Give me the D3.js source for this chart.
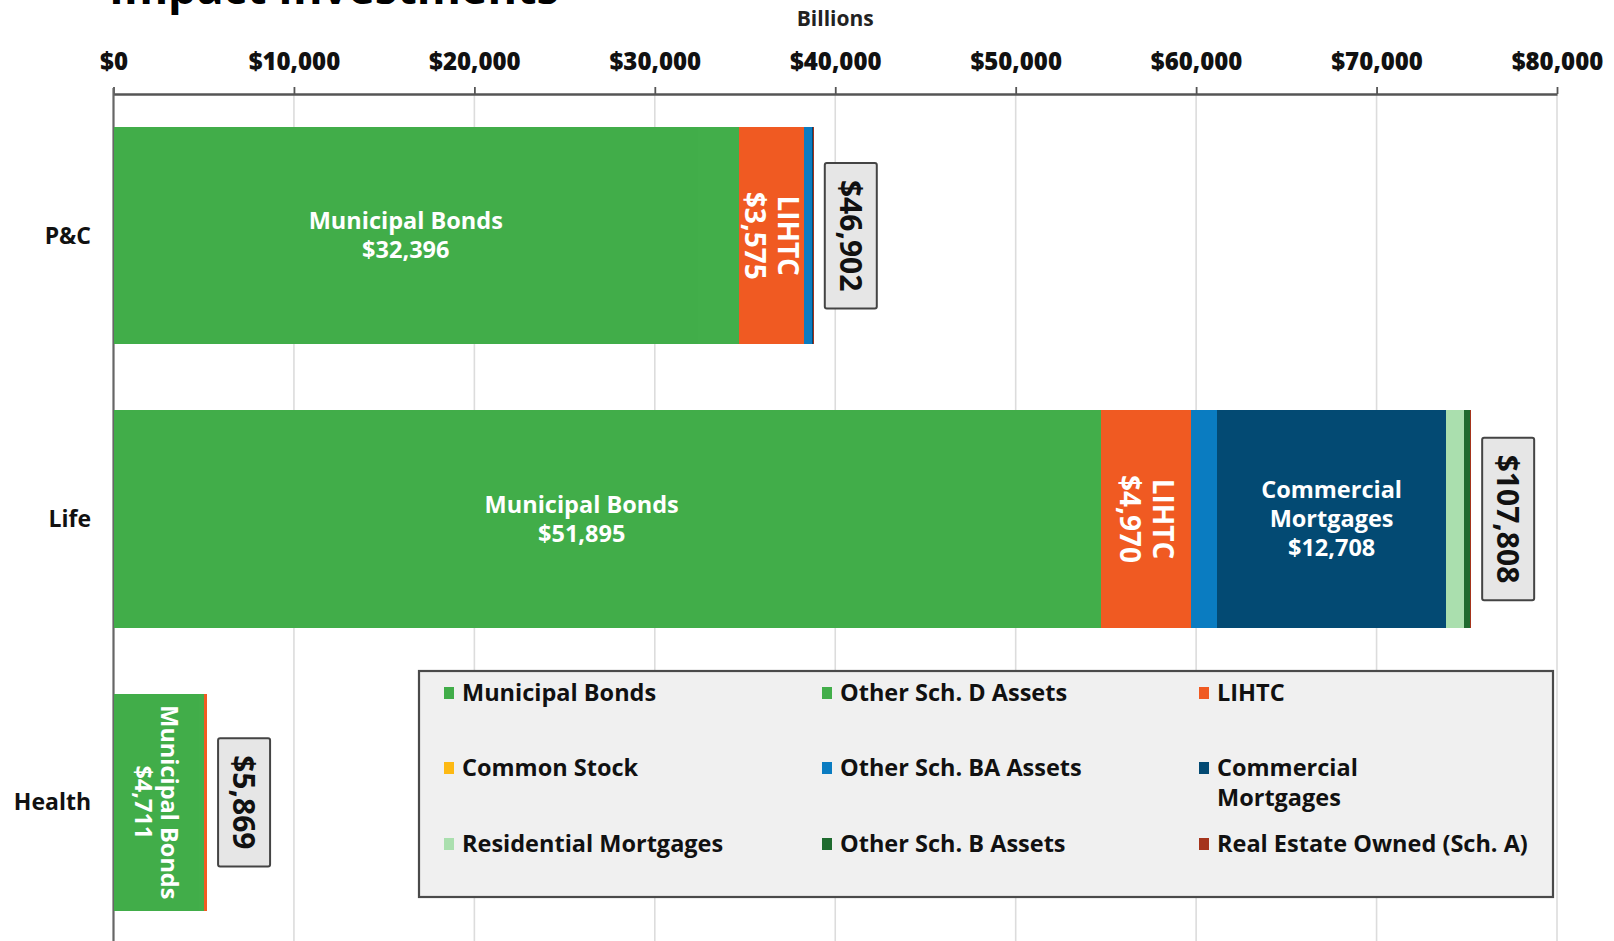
<!DOCTYPE html>
<html>
<head>
<meta charset="utf-8">
<script src="https://cdn.jsdelivr.net/npm/d3@7"></script>
<style>
  body { margin: 0; background: #ffffff; }
  text { font-family: "Open Sans", Lato, "DejaVu Sans", sans-serif; font-weight: 700; }
</style>
</head>
<body>
<svg id="chart" width="1614" height="941"></svg>
<script>
// ---- data (billions of dollars) ----
const categories = ["P&C", "Life", "Health"];

const seriesNames = [
  "Municipal Bonds", "Other Sch. D Assets", "LIHTC",
  "Common Stock", "Other Sch. BA Assets", "Commercial Mortgages",
  "Residential Mortgages", "Other Sch. B Assets", "Real Estate Owned (Sch. A)"
];
const seriesColors = [
  "#41ad49", "#42ae4a", "#f05a22",
  "#fdb913", "#0a7cc1", "#034a73",
  "#aadfae", "#1f6b2f", "#a5341c"
];

// one array per series, in category order
const municipalBonds       = [32396, 51895, 4711];
const otherSchD            = [2270, 2850, 280];
const lihtc                = [3575, 4970, 180];
const commonStock          = [0, 0, 0];
const otherSchBA           = [480, 1440, 0];
const commercialMortgages  = [40, 12708, 0];
const residentialMortgages = [0, 975, 0];
const otherSchB            = [0, 315, 0];
const realEstateOwned      = [50, 90, 15];

const totals = [46902, 107808, 5869];
const tickValues = [0, 10000, 20000, 30000, 40000, 50000, 60000, 70000, 80000];

// segments that carry an inside label: [category, series, name lines, rotated]
const segmentLabels = [
  ["P&C", "Municipal Bonds", ["Municipal Bonds"], false],
  ["P&C", "LIHTC", ["LIHTC"], true],
  ["Life", "Municipal Bonds", ["Municipal Bonds"], false],
  ["Life", "LIHTC", ["LIHTC"], true],
  ["Life", "Commercial Mortgages", ["Commercial", "Mortgages"], false],
  ["Health", "Municipal Bonds", ["Municipal Bonds"], true]
];

// legend text, split into lines
const legendLines = [
  ["Municipal Bonds"], ["Other Sch. D Assets"], ["LIHTC"],
  ["Common Stock"], ["Other Sch. BA Assets"], ["Commercial", "Mortgages"],
  ["Residential Mortgages"], ["Other Sch. B Assets"], ["Real Estate Owned (Sch. A)"]
];

const seriesValues = [
  municipalBonds, otherSchD, lihtc, commonStock, otherSchBA,
  commercialMortgages, residentialMortgages, otherSchB, realEstateOwned
];

// ---- build table for the stack ----
const table = categories.map((c, i) => {
  const row = { category: c };
  seriesNames.forEach((s, j) => { row[s] = seriesValues[j][i]; });
  return row;
});
const stacked = d3.stack().keys(seriesNames)(table);

// ---- scales ----
const svg = d3.select("#chart");
const x = d3.scaleLinear().domain([0, 80000]).range([113.5, 1557]);
const y = d3.scaleBand().domain(categories).range([94, 944])
  .paddingInner(0.233).paddingOuter(0.1165);
const color = d3.scaleOrdinal().domain(seriesNames).range(seriesColors);
const money = d3.format("$,");

// title (runs off the top edge)
svg.append("text")
  .attr("x", 109).attr("y", 4)
  .attr("font-size", 45).attr("font-weight", 800)
  .attr("fill", "#000")
  .text("Impact Investments");

// axis unit
svg.append("text")
  .attr("x", x(40000)).attr("y", 26)
  .attr("text-anchor", "middle")
  .attr("font-size", 21).attr("font-weight", 800).attr("fill", "#222")
  .text("Billions");

// gridlines
svg.append("g")
  .selectAll("line")
  .data(tickValues.slice(1))
  .join("line")
  .attr("x1", d => x(d)).attr("x2", d => x(d))
  .attr("y1", 94).attr("y2", 941)
  .attr("stroke", "#dcdcdc").attr("stroke-width", 1.6);

// top axis
const axis = svg.append("g")
  .attr("transform", "translate(0,94)")
  .call(d3.axisTop(x).tickValues(tickValues).tickFormat(money)
    .tickSizeInner(7).tickSizeOuter(0).tickPadding(17));
axis.select(".domain").attr("stroke", "#555").attr("stroke-width", 2.6);
axis.selectAll(".tick line").attr("stroke", "#555").attr("stroke-width", 1.8);
axis.selectAll(".tick text")
  .attr("font-size", 24).attr("fill", "#111")
  .style("font-family", "'Open Sans', sans-serif").style("font-weight", 800);

// left axis line
svg.append("line")
  .attr("x1", x(0)).attr("x2", x(0))
  .attr("y1", 88).attr("y2", 941)
  .attr("stroke", "#666").attr("stroke-width", 2.2);

// category labels
svg.append("g")
  .selectAll("text")
  .data(categories)
  .join("text")
  .attr("x", 91)
  .attr("y", d => y(d) + y.bandwidth() / 2)
  .attr("dy", "0.35em")
  .attr("text-anchor", "end")
  .attr("font-size", 23).attr("font-weight", 800).attr("fill", "#111")
  .text(d => d);

// stacked bars
svg.append("g")
  .attr("shape-rendering", "crispEdges")
  .selectAll("g")
  .data(stacked)
  .join("g")
  .attr("fill", d => color(d.key))
  .selectAll("rect")
  .data(d => d)
  .join("rect")
  .attr("x", d => x(d[0]))
  .attr("y", d => y(d.data.category))
  .attr("width", d => Math.max(0, x(d[1]) - x(d[0])))
  .attr("height", y.bandwidth());

// labels inside segments (the narrow LIHTC strips use a larger type)
const labelLayer = svg.append("g");
segmentLabels.forEach(([cat, series, lines, rotated]) => {
  const layer = stacked.find(s => s.key === series);
  const seg = layer[categories.indexOf(cat)];
  const cx = (x(seg[0]) + x(seg[1])) / 2;
  const cy = y(cat) + y.bandwidth() / 2;
  const allLines = lines.concat([money(seg[1] - seg[0])]);
  const big = series === "LIHTC";
  const fs = big ? 28 : 23.5;
  const lh = big ? 33 : (rotated ? 26 : 29);
  const g = labelLayer.append("g")
    .attr("transform", `translate(${cx},${cy})` + (rotated ? " rotate(90)" : ""));
  g.selectAll("text")
    .data(allLines)
    .join("text")
    .attr("x", 0)
    .attr("y", (d, i) => (i - (allLines.length - 1) / 2) * lh)
    .attr("dy", "0.35em")
    .attr("text-anchor", "middle")
    .attr("font-size", fs).attr("fill", "#fff")
    .text(d => d);
});

// total boxes at the end of each bar
const totalLayer = svg.append("g");
categories.forEach((cat, i) => {
  const end = d3.sum(seriesValues, v => v[i]);
  const cy = y(cat) + y.bandwidth() / 2;
  const g = totalLayer.append("g")
    .attr("transform", `translate(${x(end) + 11 + 26},${cy}) rotate(90)`);
  const t = g.append("text")
    .attr("x", 0).attr("y", 0).attr("dy", "0.36em")
    .attr("text-anchor", "middle")
    .attr("font-size", 30).attr("font-weight", 800).attr("fill", "#111")
    .text(money(totals[i]));
  const w = t.node().getComputedTextLength();
  g.insert("rect", "text")
    .attr("x", -w / 2 - 17).attr("y", -26)
    .attr("width", w + 34).attr("height", 52)
    .attr("rx", 2)
    .attr("fill", "#e6e6e6").attr("stroke", "#444").attr("stroke-width", 2);
});

// legend
const legend = svg.append("g").attr("transform", "translate(419,671)");
legend.append("rect")
  .attr("x", 0).attr("y", 0).attr("width", 1134).attr("height", 226)
  .attr("fill", "#f0f0f0").attr("stroke", "#4a4a4a").attr("stroke-width", 2.2);
const colX = [25, 403, 780];
const rowY = [22, 97, 173];
const items = legend.selectAll("g.item")
  .data(seriesNames)
  .join("g")
  .attr("class", "item")
  .attr("transform", (d, i) => `translate(${colX[i % 3]},${rowY[Math.floor(i / 3)]})`);
items.append("rect")
  .attr("x", 0).attr("y", -6).attr("width", 10).attr("height", 12)
  .attr("fill", d => color(d));
items.each(function (d, i) {
  d3.select(this).selectAll("text")
    .data(legendLines[i])
    .join("text")
    .attr("x", 18)
    .attr("y", (t, k) => k * 30)
    .attr("dy", "0.35em")
    .attr("font-size", 23.5).attr("fill", "#111")
    .text(t => t);
});
</script>
</body>
</html>
